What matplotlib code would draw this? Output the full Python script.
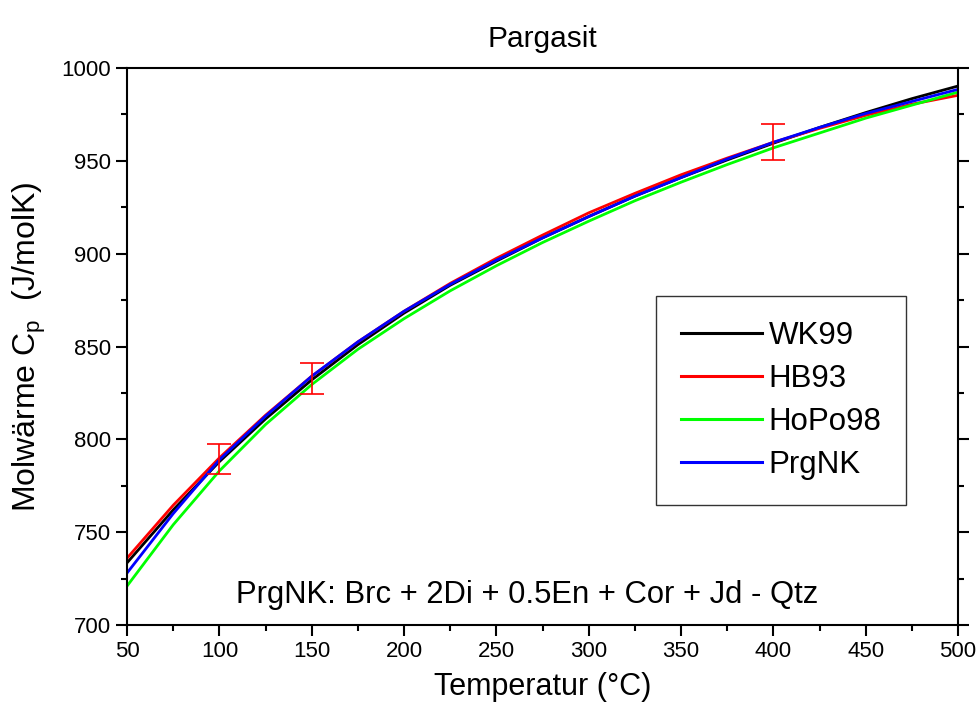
import numpy as np
import matplotlib.pyplot as plt
from matplotlib.ticker import MultipleLocator

plt.rcParams['font.family'] = ['Liberation Sans', 'DejaVu Sans']
plt.rcParams['mathtext.fontset'] = 'custom'
plt.rcParams['mathtext.rm'] = 'Liberation Sans'

# temperature grid (°C)
T = [50, 75, 100, 125, 150, 175, 200, 225, 250, 275, 300,
     325, 350, 375, 400, 425, 450, 475, 500]

# molar heat capacity Cp (J/molK)
wk99 = [733.5, 762, 788, 811, 832, 851, 868, 883, 896, 908.5, 920,
        931, 941, 950.5, 959.5, 968, 976, 983.5, 990.3]
hb93 = [736, 764.5, 790, 813, 834, 852.5, 869, 884, 897.5, 910, 922,
        932.5, 942.5, 951.5, 960, 967.5, 974.5, 980.5, 985.3]
hopo98 = [721, 754, 783, 808, 829.5, 848.5, 865, 880, 893.5, 906, 917.5,
          928.5, 938.5, 948, 957, 965, 973, 980, 987]
prgnk = [728, 760, 789, 812.5, 834, 852.5, 869, 883.5, 896.5, 908.5, 920,
         931, 941, 951, 960, 968, 975.5, 982, 988.5]

# measured points with error bars
t_meas = [100, 150, 400]
cp_meas = [789.3, 832.7, 960.2]
cp_err = [8, 8.3, 9.6]

fig = plt.figure(figsize=(9.78, 7.13), dpi=100)
ax = fig.add_axes([0.1299, 0.1234, 0.8497, 0.7812])

ax.plot(T, wk99, color='black', lw=2.0, label='WK99')
ax.plot(T, hb93, color='red', lw=2.0, label='HB93')
ax.plot(T, hopo98, color='#00ff00', lw=2.0, label='HoPo98')
ax.plot(T, prgnk, color='blue', lw=2.0, label='PrgNK')

ax.errorbar(t_meas, cp_meas, yerr=cp_err, fmt='none', ecolor='red',
            elinewidth=1.2, capsize=8.5, capthick=1.2, zorder=5)

ax.set_xlim(50, 500)
ax.set_ylim(700, 1000)
ax.xaxis.set_major_locator(MultipleLocator(50))
ax.xaxis.set_minor_locator(MultipleLocator(25))
ax.yaxis.set_major_locator(MultipleLocator(50))
ax.yaxis.set_minor_locator(MultipleLocator(25))
ax.tick_params(which='major', direction='out', length=8, width=1.5,
               labelsize=16, right=True, top=True)
ax.tick_params(which='minor', direction='out', length=4.5, width=1.5,
               right=True, top=True)
ax.tick_params(axis='x', which='both', top=False)
for s in ax.spines.values():
    s.set_linewidth(1.5)

ax.set_title('Pargasit', fontsize=21.5, pad=15)
ax.set_xlabel('Temperatur (°C)', fontsize=22, labelpad=7)
ax.set_ylabel('Molwärme C$_\\mathregular{p}$  (J/molK)', fontsize=23, labelpad=10)

ax.text(266.6, 712, 'PrgNK: Brc + 2Di + 0.5En + Cor + Jd - Qtz',
        fontsize=22.3, ha='center', va='baseline')

leg = ax.legend(loc='upper left', bbox_to_anchor=(0.6366, 0.5907),
                fontsize=22.5, handlelength=2.6, handletextpad=0.2,
                labelspacing=0.42, borderpad=0.8, borderaxespad=0,
                fancybox=False, frameon=True)
leg.get_frame().set_edgecolor('black')
leg.get_frame().set_linewidth(1.0)
for line in leg.get_lines():
    line.set_linewidth(2.2)

fig.savefig('out.png', dpi=100)
